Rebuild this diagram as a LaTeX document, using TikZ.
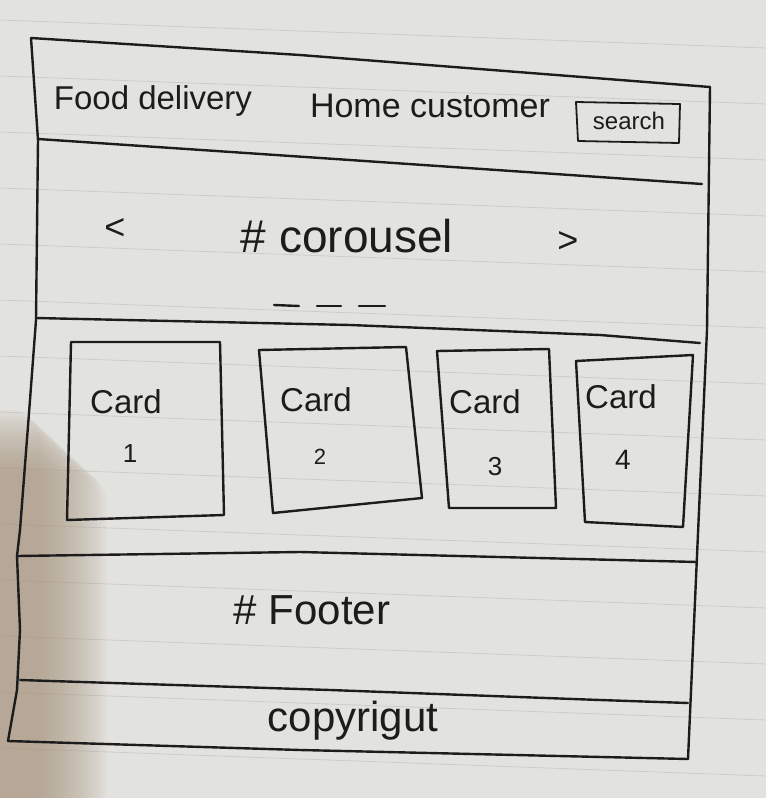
\documentclass[tikz,border=0pt]{standalone}
\usepackage{fontspec}
\setmainfont{Liberation Sans}
\definecolor{paper}{RGB}{226,226,223}
\definecolor{rule}{RGB}{204,204,203}
\definecolor{ink}{RGB}{28,28,28}
\definecolor{shadowcol}{RGB}{170,150,125}
\tikzset{
  pen/.style={draw=ink, line width=2.4pt, line join=round, line cap=round},
  thinpen/.style={draw=ink, line width=1.8pt, line join=round, line cap=round},
  label/.style={text=ink, inner sep=0pt, font=\fontsize{#1}{#1}\selectfont},
  label/.default=28
}
\begin{document}
\begin{tikzpicture}[x=1pt, y=-1pt]
\useasboundingbox (0,0) rectangle (766,798);
% paper
\fill[paper] (0,0) rectangle (766,798);
\foreach \k in {0,...,14} {
  \draw[rule, line width=0.8pt] (0,{20+56*\k}) -- (766,{48+56*\k});
}
% soft shadow in the lower-left corner, built from stacked translucent layers
\foreach \i in {0,...,21} {
  \fill[shadowcol, opacity=0.05, rounded corners=30pt]
    (-40,{410+3*\i}) rectangle ({40+3.2*\i},840);
}

% page frame corners
\coordinate (tl) at (31,38);
\coordinate (tr) at (710,87);
\coordinate (bl) at (8,741);
\coordinate (br) at (688,759);

% outer frame
\draw[pen] (tl) -- (38,140) -- (36,320) -- (30,400) -- (20,530) -- (17,556)
  -- (20,630) -- (17,690) -- (bl);
\draw[pen] (tl) -- (300,55) -- (tr);
\draw[pen] (tr) -- (707,330) -- (697,556) -- (br);
\draw[pen] (bl) -- (300,750) -- (br);

% section dividers
\draw[pen] (38,139) -- (350,160) -- (702,184);
\draw[pen] (36,318) -- (350,325) -- (600,335) -- (700,343);
\draw[pen] (17,556) -- (300,552) -- (697,562);
\draw[pen] (20,680) -- (330,690) -- (600,700) -- (688,703);

% header
\node[label=33] (brand) at (153,101) {Food delivery};
\node[label=34] (menu) at (430,106) {Home customer};
\draw[thinpen] (576,102) -- (680,104) -- (679,143) -- (578,141) -- cycle;
\node[label=24] (search) at (629,121) {search};

% carousel
\node[label=36] (prev) at (115,229) {<};
\node[label=46] (carousel) at (347,236) {\# corousel};
\node[label=36] (next) at (568,242) {>};
\coordinate (d1) at (274,305);
\coordinate (d2) at (317,306);
\coordinate (d3) at (359,306);
\draw[pen] (d1) -- ++(25,1);
\draw[pen] (d2) -- ++(24,0);
\draw[pen] (d3) -- ++(26,0);

% cards
\draw[pen] (71,342) -- (220,342) -- (224,515) -- (67,520) -- cycle;
\draw[pen] (259,350) -- (406,347) -- (422,498) -- (273,513) -- cycle;
\draw[pen] (437,351) -- (549,349) -- (556,508) -- (449,508) -- cycle;
\draw[pen] (576,361) -- (693,355) -- (683,527) -- (585,522) -- cycle;
\node[label=33] (c1) at (126,402) {Card};
\node[label=26] (n1) at (130,454) {1};
\node[label=33] (c2) at (316,400) {Card};
\node[label=22] (n2) at (320,457) {2};
\node[label=33] (c3) at (485,402) {Card};
\node[label=26] (n3) at (495,467) {3};
\node[label=33] (c4) at (621,397) {Card};
\node[label=28] (n4) at (623,460) {4};

% footer and copyright
\node[label=42] (footer) at (312,610) {\# Footer};
\node[label=42] (copy) at (353,721) {copyrigut};
\end{tikzpicture}
\end{document}
